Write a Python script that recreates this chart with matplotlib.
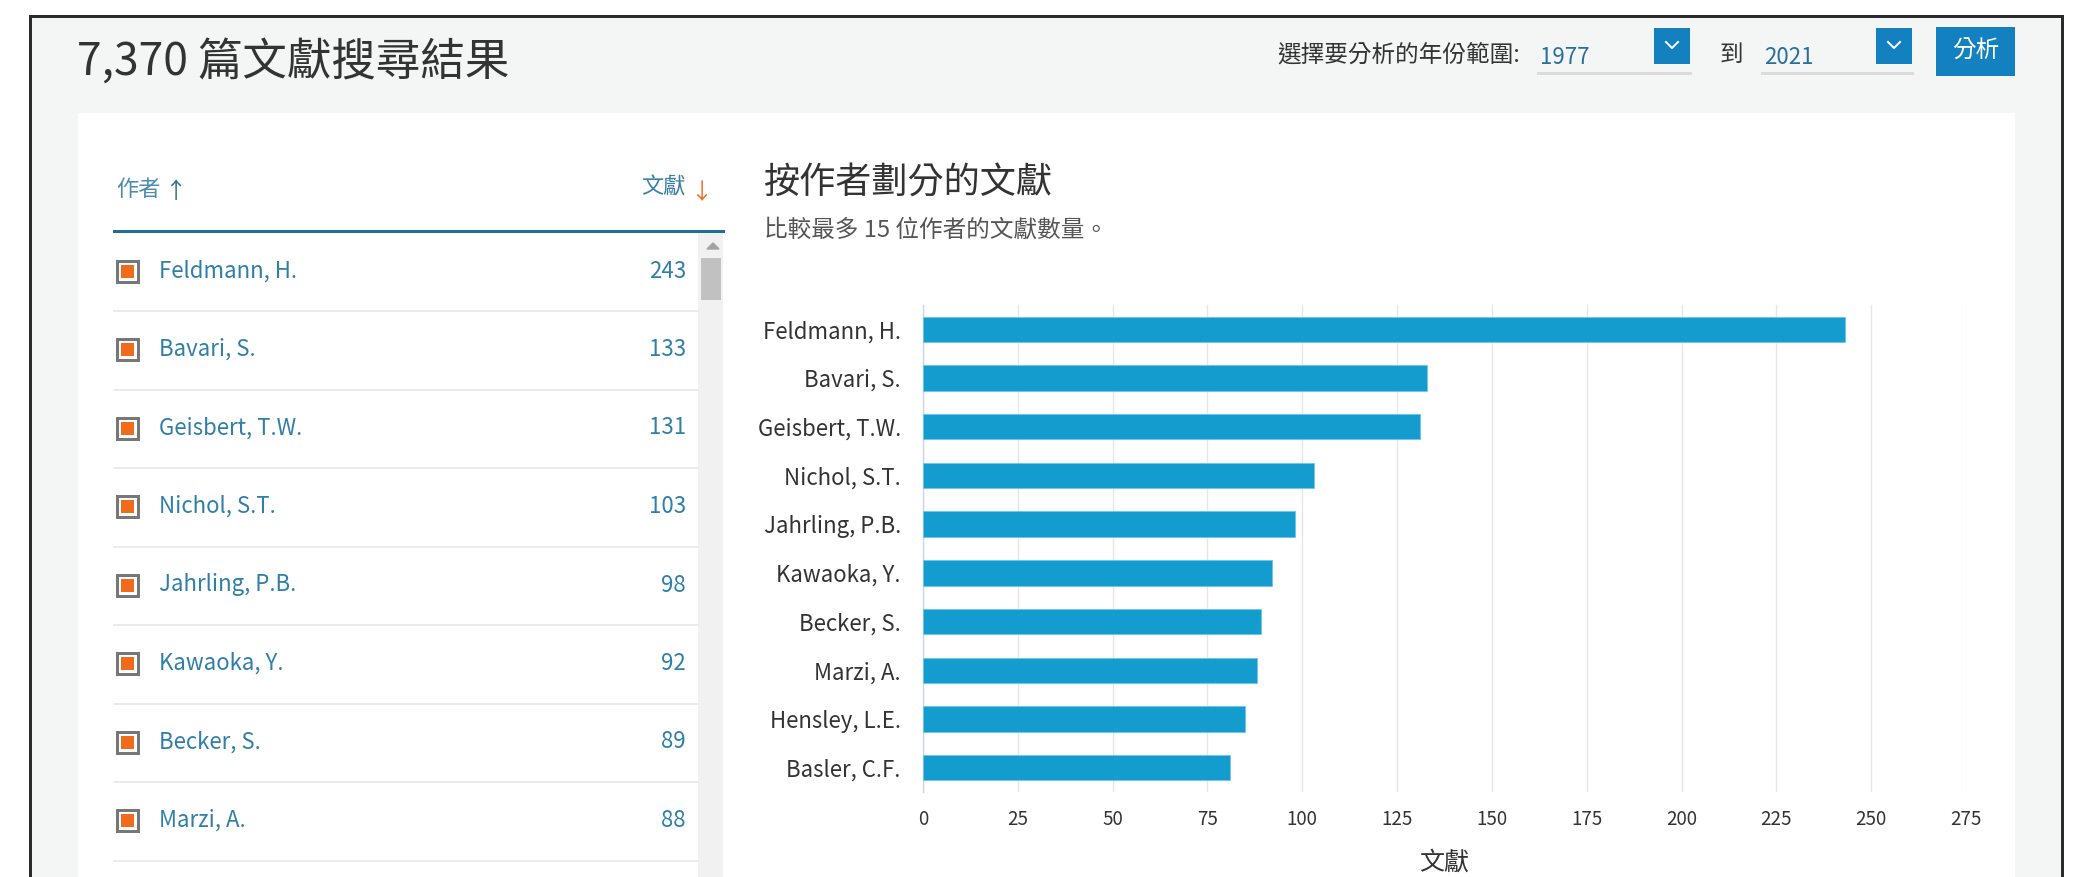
import matplotlib
matplotlib.use("Agg")
import matplotlib.pyplot as plt
from matplotlib.patches import Rectangle

# ---------------- data ----------------
authors = ["Feldmann, H.", "Bavari, S.", "Geisbert, T.W.", "Nichol, S.T.",
           "Jahrling, P.B.", "Kawaoka, Y.", "Becker, S.", "Marzi, A.",
           "Hensley, L.E.", "Basler, C.F."]
documents = [243, 133, 131, 103, 98, 92, 89, 88, 85, 81]
x_ticks = [0, 25, 50, 75, 100, 125, 150, 175, 200, 225, 250, 275]
list_authors = authors[:8]
list_documents = documents[:8]
result_count = "7,370"
year_from = "1977"
year_to = "2021"

# ---------------- style ----------------
CJK = ["Noto Sans CJK TC", "DejaVu Sans"]
plt.rcParams["font.family"] = CJK
W, H = 2091, 877
BAR = "#149ccf"
LINK = "#2f7fa8"
DARK = "#333333"
GREY_BG = "#f4f6f6"
ORANGE = "#f26b1d"
BTN = "#1380c0"

fig = plt.figure(figsize=(W / 100, H / 100), dpi=100)
fig.patch.set_facecolor("white")

bg = fig.add_axes([0, 0, 1, 1])
bg.set_xlim(0, W)
bg.set_ylim(H, 0)
bg.axis("off")

px = 0.72  # points per pixel at dpi 100

# page panel with dark border on left/top/right
bg.add_patch(Rectangle((30, 16), 2062 - 30, H, facecolor=GREY_BG, edgecolor="none"))
bg.plot([30, 30], [H, 16], color="#2b2b2b", lw=3 * px, solid_capstyle="projecting")
bg.plot([30, 2062], [16, 16], color="#2b2b2b", lw=3 * px, solid_capstyle="projecting")
bg.plot([2062, 2062], [16, H], color="#2b2b2b", lw=3 * px, solid_capstyle="projecting")

# white card
bg.add_patch(Rectangle((78, 113), 2015 - 78, H - 113, facecolor="white", edgecolor="none"))

# header title
bg.text(77, 63, f"{result_count} 篇文獻搜尋結果", fontsize=32, color=DARK,
        va="center", ha="left")

# year range selector
bg.text(1277, 55, "選擇要分析的年份範圍:", fontsize=17, color=DARK, va="center", ha="left")
for x0, x1, yr in [(1538, 1690, year_from), (1762, 1912, year_to)]:
    bg.text(x0 + 2, 58, yr, fontsize=16, color="#2a6f9b", va="center", ha="left")
    bg.plot([x0, x1], [73, 73], color="#d9dbdc", lw=3 * px)
    bg.add_patch(Rectangle((x1 - 36, 28), 36, 36, facecolor=BTN, edgecolor="none"))
    cx = x1 - 18
    bg.plot([cx - 6, cx, cx + 6], [42, 48, 42], color="white", lw=2 * px)
bg.text(1720, 55, "到", fontsize=17, color=DARK, va="center", ha="left")
bg.add_patch(Rectangle((1936, 27), 2015 - 1936, 49, facecolor=BTN, edgecolor="none"))
bg.text((1936 + 2015) / 2, 51, "分析", fontsize=17, color="white", va="center", ha="center")

# ---------------- left list ----------------
bg.text(116, 189, "作者", fontsize=16, color="#4a8bb0", va="center", ha="left")
bg.text(164, 191, "↑", fontsize=16, color="#2d6f92", va="center", ha="left", family=CJK)
bg.text(686, 187, "文獻", fontsize=16, color="#3d7fa6", va="center", ha="right")
bg.text(690, 193, "↓", fontsize=16, color=ORANGE, va="center", ha="left", family=CJK)
bg.plot([114, 723], [231, 231], color="#1d6f99", lw=3 * px)

# scrollbar
bg.add_patch(Rectangle((698, 233), 25, H - 233, facecolor="#f1f1f1", edgecolor="none"))
bg.add_patch(Rectangle((701, 258), 20, 42, facecolor="#c1c1c1", edgecolor="none"))
bg.fill([707, 713, 719], [249, 243, 249], color="#a3a3a3")

row0, row_step = 271, 78.5
for i, (name, n) in enumerate(zip(list_authors, list_documents)):
    yc = row0 + i * row_step
    # checkbox
    bg.add_patch(Rectangle((116.5, yc - 10.5), 21, 21, facecolor="white",
                           edgecolor="#777777", lw=3 * px))
    bg.add_patch(Rectangle((120.5, yc - 6.5), 13, 13, facecolor=ORANGE, edgecolor="none"))
    bg.text(159, yc, name, fontsize=16, color=LINK, va="center", ha="left")
    bg.text(686, yc, str(n), fontsize=16, color=LINK, va="center", ha="right")
    bg.plot([114, 698], [yc + 40, yc + 40], color="#e6e8e8", lw=1.6 * px)

# ---------------- chart ----------------
bg.text(764, 183, "按作者劃分的文獻", fontsize=26, color=DARK, va="center", ha="left")
bg.text(764, 230, "比較最多 15 位作者的文獻數量。", fontsize=17, color="#555555",
        va="center", ha="left")

ax_l, ax_r, ax_t, ax_b = 923, 1966, 305, 792
ax = fig.add_axes([ax_l / W, 1 - ax_b / H, (ax_r - ax_l) / W, (ax_b - ax_t) / H])
ax.set_facecolor("none")
ypos = list(range(len(authors)))
ax.barh(ypos, documents, height=0.52, color=BAR, edgecolor="#6cc6ea", linewidth=0.6,
        zorder=3)
ax.set_ylim(len(authors) - 0.5, -0.5)
ax.set_xlim(0, x_ticks[-1])
ax.set_xticks(x_ticks)
ax.set_xticklabels([str(t) for t in x_ticks])
ax.set_yticks(ypos)
ax.set_yticklabels(authors)
ax.grid(axis="x", color="#e6e6e6", lw=1.4 * px, zorder=0)
ax.set_axisbelow(True)
for s in ["top", "right", "bottom"]:
    ax.spines[s].set_visible(False)
ax.spines["left"].set_color("#ccd6eb")
ax.spines["left"].set_linewidth(1.4 * px)
ax.tick_params(axis="x", length=0, pad=12, labelsize=13.5, labelcolor=DARK)
ax.tick_params(axis="y", length=0, pad=16, labelsize=16, labelcolor=DARK)

bg.text((ax_l + ax_r) / 2, 863, "文獻", fontsize=18, color=DARK, va="center", ha="center")

fig.savefig("out.png", dpi=100, facecolor="white")
